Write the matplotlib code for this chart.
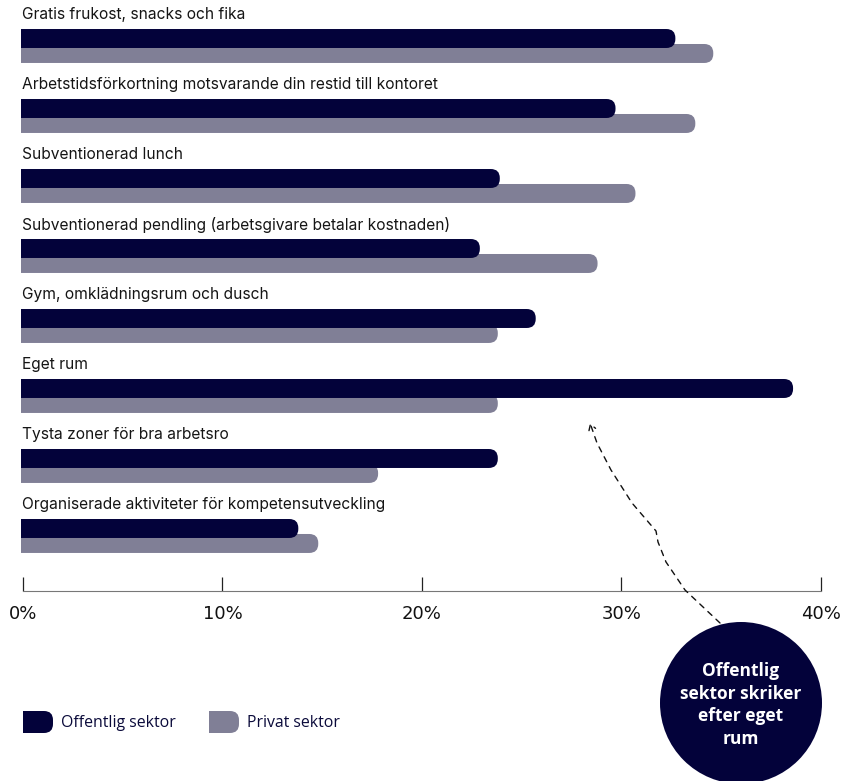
import numpy as np
import matplotlib
matplotlib.use('Agg')
import matplotlib.pyplot as plt
from matplotlib.patches import FancyBboxPatch, Circle, FancyArrowPatch
from matplotlib.path import Path

# data (percent)
categories = [
    "Gratis frukost, snacks och fika",
    "Arbetstidsförkortning motsvarande din restid till kontoret",
    "Subventionerad lunch",
    "Subventionerad pendling (arbetsgivare betalar kostnaden)",
    "Gym, omklädningsrum och dusch",
    "Eget rum",
    "Tysta zoner för bra arbetsro",
    "Organiserade aktiviteter för kompetensutveckling",
]
offentlig = [32.7, 29.7, 23.9, 22.9, 25.7, 38.6, 23.8, 13.8]
privat = [34.6, 33.7, 30.7, 28.8, 23.8, 23.8, 17.8, 14.8]
ticks = [0, 10, 20, 30, 40]
tick_labels = ["0%", "10%", "20%", "30%", "40%"]

DARK = '#03023a'
GREY = '#807f96'
W, H = 861, 781

fig = plt.figure(figsize=(W / 100, H / 100), dpi=100)
ax = fig.add_axes([21 / W, (H - 591) / H, 800 / W, 591 / H])
ax.set_xlim(-0.1, 40)
ax.set_ylim(7.893, -0.55)

# px -> data helpers for rounding
x_per_px = 40.1 / 800
aspect = (1 / 70) / x_per_px
bar_h = 0.271
rnd = 9 * x_per_px

def rounded_bar(y, value, color, z):
    p = FancyBboxPatch((-2, y - bar_h / 2), value + 2, bar_h,
                       boxstyle=f"round,pad=0,rounding_size={rnd}",
                       mutation_aspect=aspect, fc=color, ec='none', zorder=z)
    ax.add_patch(p)

for i, (cat, o, p) in enumerate(zip(categories, offentlig, privat)):
    rounded_bar(i + 0.214, p, GREY, 2)
    rounded_bar(i, o, DARK, 3)
    ax.text(-0.05, i - 0.336, cat, va='center', ha='left', fontsize=11.2,
            family=['Inter', 'DejaVu Sans'], color='#151515')

for s in ['top', 'left', 'right']:
    ax.spines[s].set_visible(False)
ax.spines['bottom'].set_bounds(0, 40)
ax.spines['bottom'].set_color('#777777')
ax.set_yticks([])
ax.set_xticks(ticks)
ax.set_xticklabels(tick_labels, family=['Liberation Sans Narrow', 'DejaVu Sans'], fontsize=13, color='#111111')
ax.tick_params(axis='x', direction='in', length=10, width=0.9, color='#222222', pad=10)

# overlay in pixel coords for legend, bubble and arrow
ov = fig.add_axes([0, 0, 1, 1], zorder=5)
ov.set_xlim(0, W)
ov.set_ylim(H, 0)
ov.axis('off')
ov.patch.set_alpha(0)

for x0, col, lab in [(23, DARK, "Offentlig sektor"), (209, GREY, "Privat sektor")]:
    ov.add_patch(FancyBboxPatch((x0 - 10, 711), 40, 22, boxstyle="round,pad=0,rounding_size=9",
                                fc=col, ec='none'))
    ov.add_patch(plt.Rectangle((x0 - 12, 709), 12, 26, fc='white', ec='none', zorder=3))
    ov.text(x0 + 38, 723, lab, va='center', ha='left', fontsize=11.4,
            family=['Open Sans', 'DejaVu Sans'], color='#0a0a3a')

ov.add_patch(Circle((741, 703), 81, fc=DARK, ec='none', clip_on=False))
ov.text(741, 705, "Offentlig\nsektor skriker\nefter eget\nrum", ha='center', va='center',
        color='white', fontsize=12.5, fontweight='bold', linespacing=1.35,
        family=['Open Sans', 'DejaVu Sans'])

pts = [(720, 623), (685, 590), (666, 562), (658, 542), (656, 531),
       (632, 503), (611, 470), (597, 443), (590, 423)]
path = Path(pts, [Path.MOVETO] + [Path.LINETO] * (len(pts) - 1))
arr = FancyArrowPatch(path=path, arrowstyle='->,head_length=4,head_width=2.5',
                      color='#111111', lw=1, linestyle=(0, (4, 4)))
ov.add_patch(arr)

fig.savefig('out.png', dpi=100)
